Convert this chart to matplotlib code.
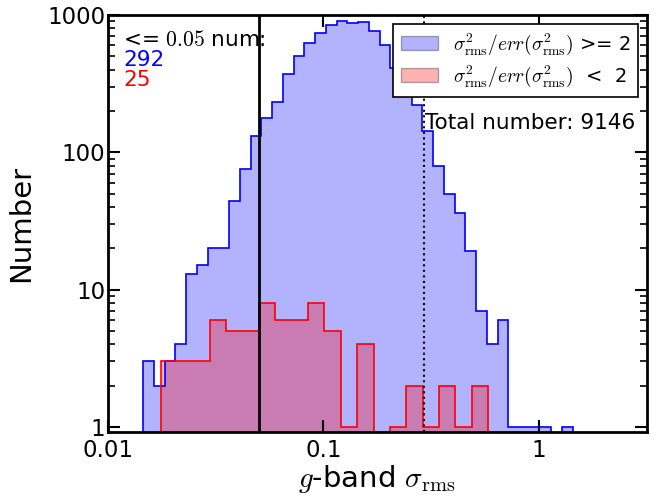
import matplotlib
matplotlib.use('Agg')
import matplotlib.pyplot as plt
import numpy as np
from matplotlib.patches import Patch

plt.rcParams['mathtext.fontset'] = 'cm'

# g-band sigma_rms histograms, bins are uniform in log10(sigma_rms)
blue_log_range = (-1.8366, 0.1574)   # 40 bins
blue_counts = [3, 2, 3, 4, 13, 15, 20, 20, 44, 76,
               131, 179, 231, 371, 505, 621, 739, 850, 904, 879,
               884, 764, 607, 408, 300, 221, 143, 79, 50, 36,
               19, 7, 4, 6, 1, 1, 1, 1, 0, 1]

red_log_range = (-1.7546, -0.2361)   # 20 bins
red_counts = [3, 3, 3, 6, 5, 5, 8, 6, 6, 8,
              5, 1, 4, 0, 1, 2, 1, 2, 1, 2]

cut_value = 0.05
dotted_value = 0.293
n_blue_below = 292
n_red_below = 25
total_number = 9146

blue_edges = np.logspace(blue_log_range[0], blue_log_range[1], len(blue_counts) + 1)
red_edges = np.logspace(red_log_range[0], red_log_range[1], len(red_counts) + 1)

fig = plt.figure(figsize=(6.62, 4.97), dpi=100)
ax = fig.add_axes([0.163, 0.131, 0.814, 0.839])
ax.set_xscale('log')
ax.set_yscale('log')

# filled areas first, outlines on top
ax.stairs(blue_counts, blue_edges, baseline=0.5, fill=True, color='blue', alpha=0.3, lw=0)
ax.stairs(red_counts, red_edges, baseline=0.5, fill=True, color='red', alpha=0.3, lw=0)
ax.stairs(blue_counts, blue_edges, baseline=0.5, color='blue', lw=1.2)
ax.stairs(red_counts, red_edges, baseline=0.5, color='red', lw=1.2)

ax.axvline(cut_value, color='k', lw=2)
ax.axvline(dotted_value, color='k', lw=1.5, ls=':')

ax.set_xlim(0.01, 10 ** 0.5)
ax.set_ylim(0.92, 1000)

ax.set_xticks([0.01, 0.1, 1])
ax.set_xticklabels(['0.01', '0.1', '1'])
ax.xaxis.set_minor_locator(matplotlib.ticker.NullLocator())
ax.set_yticks([1, 10, 100, 1000])
ax.set_yticklabels(['1', '10', '100', '1000'])
ax.tick_params(which='both', direction='in', top=True, right=True, labelsize=16.5)
ax.tick_params(which='major', length=8.5, width=1.5)
ax.tick_params(which='minor', length=4.8, width=1.2)
ax.tick_params(axis='y', pad=2)
ax.tick_params(axis='x', pad=5)
for s in ax.spines.values():
    s.set_linewidth(2)

ax.set_xlabel(r'$g$-band $\sigma_{\rm rms}$', fontsize=21)
ax.set_ylabel('Number', fontsize=21)
ax.xaxis.set_label_coords(0.5, -0.074)
ax.yaxis.set_label_coords(-0.135, 0.5)

ax.text(0.028, 0.940, r'<= $0.05$ num:', transform=ax.transAxes, fontsize=15.5, va='center')
ax.text(0.028, 0.891, str(n_blue_below), transform=ax.transAxes, fontsize=15.5, va='center', color='blue')
ax.text(0.028, 0.843, str(n_red_below), transform=ax.transAxes, fontsize=15.5, va='center', color='red')
ax.text(0.588, 0.741, 'Total number: %d' % total_number, transform=ax.transAxes, fontsize=15.5, va='center')

handles = [Patch(facecolor='blue', edgecolor='k', alpha=0.3),
           Patch(facecolor='red', edgecolor='k', alpha=0.3)]
labels = [r'$\sigma^2_{\rm rms}/err(\sigma^2_{\rm rms})$ >= 2',
          r'$\sigma^2_{\rm rms}/err(\sigma^2_{\rm rms})$  <  2']
leg = ax.legend(handles, labels, loc='upper right', fontsize=14, fancybox=False,
                framealpha=1, edgecolor='k', handlelength=1.9, handletextpad=0.75,
                labelspacing=0.35, borderpad=0.4, borderaxespad=0.45)
leg.get_frame().set_linewidth(1.2)

fig.savefig('out.png', dpi=100)
